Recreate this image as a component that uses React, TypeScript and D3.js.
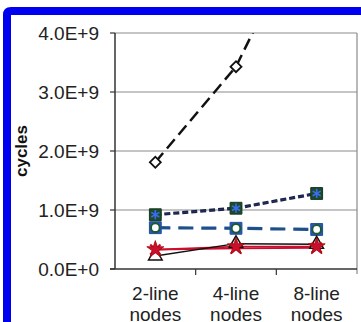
import React from "react"
import * as d3 from "d3"

// Data
const categories = ["2-line nodes", "4-line nodes", "8-line nodes"]
const yTicks = [0, 1e9, 2e9, 3e9, 4e9]

const diamondSeries = [1.81e9, 3.43e9, 6.2e9]
const squareSeries = [0.92e9, 1.03e9, 1.28e9]
const asteriskSeries = [0.92e9, 1.03e9, 1.28e9]
const blueSquareSeries = [0.7e9, 0.69e9, 0.67e9]
const circleSeries = [0.7e9, 0.69e9, 0.67e9]
const starSeries = [0.33e9, 0.38e9, 0.38e9]
const crossSeries = [0.33e9, 0.35e9, 0.36e9]
const triangleSeries = [0.22e9, 0.43e9, 0.42e9]

const fmt = (v: number) => (v / 1e9).toFixed(1) + "E+" + (v === 0 ? "0" : "9")

export default function App() {
  // Dimensions
  const W = 361
  const H = 322
  const margin = { top: 33, right: 4, bottom: 53, left: 115 }
  const plotR = W - margin.right
  const plotB = H - margin.bottom

  // Scales
  const x = d3.scaleBand().domain(categories).range([margin.left, plotR])
  const y = d3.scaleLinear().domain([0, 4e9]).range([plotB, margin.top])
  const cx = (i: number) => (x(categories[i]) as number) + x.bandwidth() / 2

  const line = d3
    .line<number>()
    .x((d, i) => cx(i))
    .y(d => y(d))

  const sym = (type: d3.SymbolType, size: number) => d3.symbol().type(type).size(size)() as string
  const timesType = (d3 as any).symbolTimes || (d3 as any).symbolX || d3.symbolCross
  const asteriskType = (d3 as any).symbolAsterisk || d3.symbolCross

  const font = "Liberation Sans, Arial, sans-serif"
  const textColor = "#222"

  return (
    <svg width={W} height={H} style={{ position: "absolute", left: 0, top: 0, background: "#fff" }}>
      <defs>
        <clipPath id="plot-clip">
          <rect x={margin.left} y={margin.top} width={plotR - margin.left} height={plotB - margin.top} />
        </clipPath>
      </defs>

      {/* blue frame */}
      <path d={`M7 ${H} L7 15 Q7 11 11 11 L${W} 11`} fill="none" stroke="#0000f0" strokeWidth={8} />

      {/* gridlines */}
      {yTicks.slice(1).map(t => (
        <line key={t} x1={margin.left} x2={plotR} y1={y(t)} y2={y(t)} stroke="#8a8a8a" strokeWidth={1} />
      ))}
      <line x1={plotR} x2={plotR} y1={margin.top} y2={plotB + 5} stroke="#8a8a8a" strokeWidth={1.2} />

      {/* y axis */}
      <line x1={margin.left} x2={margin.left} y1={margin.top} y2={plotB} stroke="#333" strokeWidth={1.5} />
      {yTicks.map(t => (
        <g key={t}>
          <line x1={margin.left - 5} x2={margin.left} y1={y(t)} y2={y(t)} stroke="#333" strokeWidth={1.2} />
          <text x={99} y={y(t)} dy="0.35em" textAnchor="end" fontFamily={font} fontSize={19} fill={textColor}>
            {fmt(t)}
          </text>
        </g>
      ))}
      <text
        transform={`translate(27, 151) rotate(-90)`}
        textAnchor="middle"
        fontFamily={font}
        fontSize={17}
        fontWeight="bold"
        fill="#111"
      >
        cycles
      </text>

      {/* x axis */}
      <line x1={margin.left - 5} x2={plotR} y1={plotB} y2={plotB} stroke="#333" strokeWidth={1.5} />
      {categories.map((c, i) => (
        <g key={c}>
          {i > 0 && (
            <line x1={x(c)} x2={x(c)} y1={plotB} y2={plotB + 6} stroke="#333" strokeWidth={1.2} />
          )}
          {c.split(" ").map((w, j) => (
            <text
              key={w}
              x={cx(i)}
              y={300 + j * 21}
              textAnchor="middle"
              fontFamily={font}
              fontSize={19}
              fill={textColor}
            >
              {w}
            </text>
          ))}
        </g>
      ))}

      <g clipPath="url(#plot-clip)">
        {/* black long dash, diamonds */}
        <path d={line(diamondSeries) as string} fill="none" stroke="#111" strokeWidth={2.5} strokeDasharray="12,6" />
        {diamondSeries.map((d, i) => (
          <path key={i} d={sym(d3.symbolSquare, 60)} transform={`translate(${cx(i)},${y(d)}) rotate(45)`}
            fill="#fff" stroke="#111" strokeWidth={1.8} />
        ))}

        {/* blue long dash, squares + circles */}
        <path d={line(blueSquareSeries) as string} fill="none" stroke="#1f4f9f" strokeWidth={3.2} strokeDasharray="15,8" />
        <path d={line(circleSeries) as string} fill="none" stroke="#1c5a30" strokeWidth={1} strokeDasharray="15,8" opacity={0.5} />

        {/* red lines */}
        <path d={line(crossSeries) as string} fill="none" stroke="#c8102e" strokeWidth={1.8} />
        <path d={line(starSeries) as string} fill="none" stroke="#c8102e" strokeWidth={1.8} />
        {/* black solid, triangles */}
        <path d={line(triangleSeries) as string} fill="none" stroke="#111" strokeWidth={1.5} />

        {/* short dash, green squares + blue asterisks */}
        <path d={line(squareSeries) as string} fill="none" stroke="#1a1f3a" strokeWidth={3.2} strokeDasharray="6,3" />
        <path d={line(asteriskSeries) as string} fill="none" stroke="#2340a0" strokeWidth={1} strokeDasharray="6,3" opacity={0.6} />

        {blueSquareSeries.map((d, i) => (
          <path key={"bs" + i} d={sym(d3.symbolSquare, 140)} transform={`translate(${cx(i)},${y(d)})`}
            fill="#2a55c0" stroke="#1f4f9f" strokeWidth={1} />
        ))}
        {circleSeries.map((d, i) => (
          <path key={"c" + i} d={sym(d3.symbolCircle, 60)} transform={`translate(${cx(i)},${y(d)})`}
            fill="#fff" stroke="#1c5a30" strokeWidth={2} />
        ))}
        {squareSeries.map((d, i) => (
          <path key={"s" + i} d={sym(d3.symbolSquare, 140)} transform={`translate(${cx(i)},${y(d)})`}
            fill="#1d4a2a" stroke="#143820" strokeWidth={1} />
        ))}
        {asteriskSeries.map((d, i) => (
          <path key={"a" + i} d={sym(asteriskType, 60)} transform={`translate(${cx(i)},${y(d)})`}
            fill="none" stroke="#3a6cf0" strokeWidth={1.6} />
        ))}

        {triangleSeries.map((d, i) => (
          <path key={"t" + i} d={sym(d3.symbolTriangle, 80)} transform={`translate(${cx(i)},${y(d)})`}
            fill="#fff" stroke="#111" strokeWidth={1.5} />
        ))}
        {crossSeries.map((d, i) => (
          <path key={"x" + i} d={sym(timesType, 70)} transform={`translate(${cx(i)},${y(d)})`}
            fill="none" stroke="#c8102e" strokeWidth={2.2} />
        ))}
        {starSeries.map((d, i) => (
          <path key={"st" + i} d={sym(d3.symbolStar, 90)} transform={`translate(${cx(i)},${y(d)})`}
            fill="#c8102e" stroke="#a00" strokeWidth={0.8} />
        ))}
      </g>
    </svg>
  )
}
